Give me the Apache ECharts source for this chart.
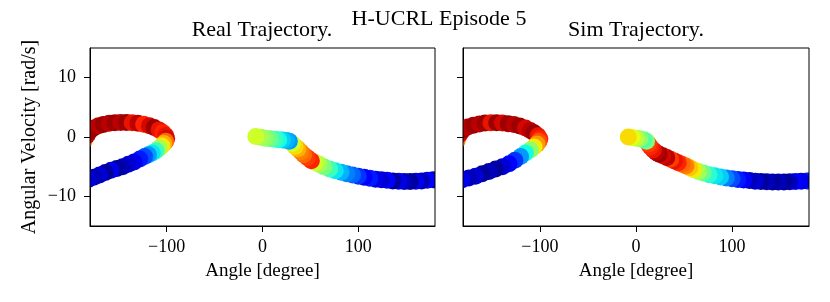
<!DOCTYPE html>
<html><head><meta charset="utf-8">
<script src="https://cdn.jsdelivr.net/npm/echarts@6/dist/echarts.min.js"></script>
<style>html,body{margin:0;padding:0;background:#fff}#c{width:830px;height:302px}</style>
</head><body><div id="c"></div>
<script>
// ---- data (angle [deg], angular velocity [rad/s], action colour value in [-1,1]) ----
const realAngle = [
  -186,-183,-180,-176,-171,-166,-160,-154,-148,-142,-136,-130,-124,-118,-113,-108,-104,-101,-100,
  -101,-103,-105,-108,-111,-115,-119,-123,-128,-134,-140,-146,-152,-158,-164,-170,-176,-182,
  178,172,166,160,154,148,142,136,130,124,118,112,106,100,94,88,82,76,70,64,59,55,51,47,43,40,37,34,31,28,25,21,17,13,8,3,-2,-7
];
const realVelocity = [
  -0.6,0.3,1.0,1.5,1.9,2.1,2.3,2.4,2.45,2.45,2.4,2.3,2.15,1.9,1.6,1.2,0.75,0.25,-0.25,
  -0.7,-1.1,-1.5,-1.9,-2.3,-2.7,-3.0,-3.3,-3.7,-4.2,-4.6,-5.0,-5.3,-5.6,-6.0,-6.4,-6.8,-7.15,
  -7.2,-7.3,-7.4,-7.45,-7.5,-7.5,-7.45,-7.4,-7.3,-7.2,-7.1,-6.95,-6.8,-6.6,-6.4,-6.2,-5.95,-5.7,-5.4,-5.0,-4.6,-4.3,-4.0,-3.5,-3.0,-2.5,-2.0,-1.6,-1.1,-0.7,-0.6,-0.5,-0.45,-0.4,-0.3,-0.2,-0.05,0.1
];
const realAction = [
  0.55,0.9,0.95,0.95,0.9,0.95,0.9,0.95,0.9,0.95,0.8,0.9,0.75,0.85,0.95,0.8,0.75,0.8,0.85,
  0.6,0.45,0.3,0.1,-0.15,-0.3,-0.45,-0.6,-0.7,-0.8,-0.85,-0.9,-0.95,-0.8,-0.95,-0.85,-0.9,-0.85,
  -0.9,-0.75,-0.9,-0.8,-0.95,-0.9,-0.8,-0.95,-0.75,-0.85,-0.8,-0.7,-0.75,-0.65,-0.55,-0.5,-0.4,-0.3,-0.15,0.0,0.1,0.2,0.75,0.7,0.6,0.55,0.45,0.35,0.2,-0.45,-0.4,-0.35,-0.25,-0.15,-0.05,0.05,0.1,0.2
];

const simAngle = [
  -186,-183,-180,-175,-169,-163,-157,-151,-145,-139,-133,-127,-121,-115,-110,-106,-102,-100,
  -101,-103,-106,-110,-115,-120,-126,-132,-139,-146,-153,-160,-167,-174,-181,
  178,172,166,160,154,148,142,136,130,124,118,112,106,100,94,88,82,76,70,65,60,56,52,48,44,40,36,32,28,24,21,18,15,13,11,8,4,0,-4,-8
];
const simVelocity = [
  -0.6,0.5,1.2,1.7,2.0,2.2,2.35,2.4,2.4,2.35,2.25,2.1,1.85,1.5,1.1,0.7,0.2,-0.3,
  -0.7,-1.2,-1.7,-2.2,-2.7,-3.3,-3.9,-4.5,-5.0,-5.4,-5.8,-6.2,-6.6,-6.9,-7.2,
  -7.4,-7.45,-7.5,-7.55,-7.6,-7.6,-7.6,-7.55,-7.5,-7.45,-7.35,-7.25,-7.15,-7.05,-6.9,-6.75,-6.55,-6.35,-6.05,-5.8,-5.5,-5.2,-4.9,-4.6,-4.35,-4.05,-3.75,-3.45,-3.15,-2.9,-2.6,-2.2,-1.7,-1.2,-0.7,-0.45,-0.3,-0.2,-0.1,0.0
];
const simAction = [
  0.55,0.85,0.95,0.9,0.95,0.9,0.95,0.8,0.95,0.85,0.95,0.9,0.95,0.85,0.9,0.95,0.8,0.75,
  0.65,0.5,0.3,0.05,-0.25,-0.45,-0.65,-0.75,-0.85,-0.95,-0.9,-0.95,-0.85,-0.9,-0.8,
  -0.7,-0.8,-0.75,-0.9,-0.95,-0.9,-0.95,-0.9,-0.95,-0.85,-0.9,-0.75,-0.7,-0.6,-0.5,-0.35,-0.3,-0.2,-0.05,0.1,0.3,0.4,0.55,0.6,0.75,0.8,0.7,0.9,0.85,0.95,0.9,0.8,0.75,0.7,0.0,-0.1,0.05,0.15,0.25,0.35
];

const xTickValues = [-100, 0, 100];
const yTickValues = [-10, 0, 10];
const suptitle = 'H-UCRL Episode 5';
const panelTitles = ['Real Trajectory.', 'Sim Trajectory.'];
const xName = 'Angle [degree]';
const yName = 'Angular Velocity [rad/s]';

// matplotlib "jet" colormap sampled at 17 even stops
const jet = ['#000080','#0000c8','#0000ff','#0040ff','#0080ff','#00c0ff','#14ffe2','#48ffaf','#7bff7b',
             '#afff48','#e2ff14','#ffd200','#ff9700','#ff5c00','#ff2100','#c80000','#800000'];

const FONT = 'Liberation Serif';
const MARKER_R = 8.5;
const minus = v => String(v).replace('-', '\u2212');
const zip = (a, b, c) => a.map((v, i) => [v, b[i], c[i]]);

const grids = [
  {left: 90, top: 48, width: 345, height: 178},
  {left: 463, top: 48, width: 346, height: 178}
].map(g => Object.assign(g, {show: true, borderColor: '#000', borderWidth: 1, backgroundColor: 'transparent', z: 3}));

const mkX = i => ({
  type: 'value', gridIndex: i, min: -180, max: 180,
  splitLine: {show: false},
  axisLine: {show: true, onZero: false, lineStyle: {color: '#000', width: 1}},
  axisTick: {show: true, customValues: xTickValues, length: 6, lineStyle: {color: '#000', width: 1}},
  axisLabel: {customValues: xTickValues, formatter: minus, color: '#000', fontFamily: FONT, fontSize: 18, margin: 12},
  name: xName, nameLocation: 'middle', nameGap: 36,
  nameTextStyle: {color: '#000', fontFamily: FONT, fontSize: 19}
});
const mkY = i => ({
  type: 'value', gridIndex: i, min: -15, max: 15,
  splitLine: {show: false},
  axisLine: {show: true, onZero: false, lineStyle: {color: '#000', width: 1}},
  axisTick: {show: true, customValues: yTickValues, length: 6, lineStyle: {color: '#000', width: 1}},
  axisLabel: {show: i === 0, customValues: yTickValues, formatter: minus, color: '#000', fontFamily: FONT, fontSize: 18, margin: 14},
  name: i === 0 ? yName : '', nameLocation: 'middle', nameGap: 50,
  nameTextStyle: {color: '#000', fontFamily: FONT, fontSize: 20}
});

const dotRenderer = (params, api) => {
  const p = api.coord([api.value(0), api.value(1)]);
  return {type: 'circle', shape: {cx: p[0], cy: p[1], r: MARKER_R},
          style: {fill: api.visual('color'), stroke: null}};
};

const chart = echarts.init(document.getElementById('c'), null, {renderer: 'canvas'});
chart.setOption({
  animation: false,
  backgroundColor: '#fff',
  title: [
    {text: suptitle, left: 439, top: 8, textAlign: 'center', padding: 0,
     textStyle: {fontFamily: FONT, fontSize: 22, fontWeight: 'normal', color: '#000'}},
    {text: panelTitles[0], left: 262, top: 19, textAlign: 'center', padding: 0,
     textStyle: {fontFamily: FONT, fontSize: 22, fontWeight: 'normal', color: '#000'}},
    {text: panelTitles[1], left: 636, top: 19, textAlign: 'center', padding: 0,
     textStyle: {fontFamily: FONT, fontSize: 22, fontWeight: 'normal', color: '#000'}}
  ],
  grid: grids,
  xAxis: [mkX(0), mkX(1)],
  yAxis: [mkY(0), mkY(1)],
  visualMap: {
    show: false, type: 'continuous', min: -1, max: 1, dimension: 2, seriesIndex: [0, 1],
    inRange: {color: jet}
  },
  series: [
    {type: 'custom', xAxisIndex: 0, yAxisIndex: 0, clip: true, renderItem: dotRenderer,
     encode: {x: 0, y: 1}, data: zip(realAngle, realVelocity, realAction)},
    {type: 'custom', xAxisIndex: 1, yAxisIndex: 1, clip: true, renderItem: dotRenderer,
     encode: {x: 0, y: 1}, data: zip(simAngle, simVelocity, simAction)}
  ]
});
</script>
</body></html>
